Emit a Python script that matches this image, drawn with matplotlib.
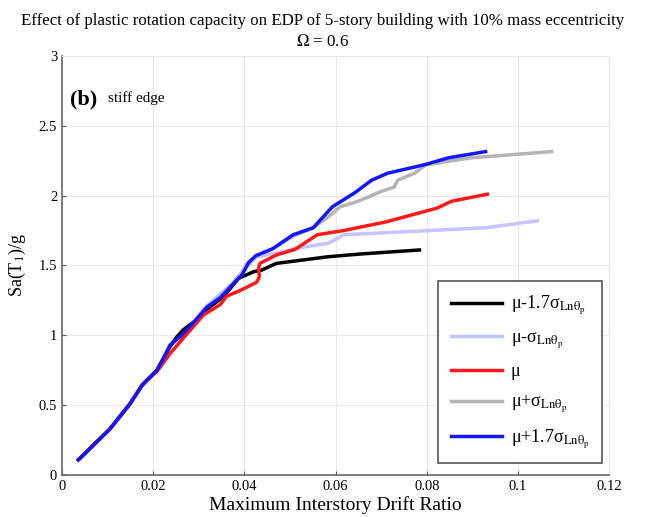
import numpy as np
from matplotlib import pyplot as plt

plt.rcParams["font.family"] = ["Liberation Serif", "DejaVu Serif"]
plt.rcParams["mathtext.fontset"] = "stix"

x_m17 = [0.0036, 0.0105, 0.0149, 0.0175, 0.0186, 0.0208, 0.0237, 0.0252, 0.0266, 0.0295, 0.0325,
         0.0354, 0.0387, 0.0420, 0.0438, 0.0470, 0.0585, 0.0654, 0.0784]
y_m17 = [0.11, 0.33, 0.51, 0.64, 0.68, 0.75, 0.92, 0.99, 1.04, 1.11, 1.205,
         1.276, 1.408, 1.455, 1.467, 1.515, 1.563, 1.582, 1.611]

x_m1 = [0.0036, 0.0105, 0.0149, 0.0175, 0.0208, 0.0237, 0.0288, 0.0317, 0.0361, 0.0390, 0.0405,
        0.0425, 0.0487, 0.0507, 0.0585, 0.0618, 0.0929, 0.1043]
y_m1 = [0.11, 0.33, 0.51, 0.64, 0.75, 0.93, 1.09, 1.21, 1.336, 1.42, 1.515,
        1.56, 1.60, 1.62, 1.66, 1.72, 1.77, 1.82]

x_mu = [0.0036, 0.0105, 0.0149, 0.0164, 0.0178, 0.0208, 0.0237, 0.0274, 0.0310, 0.0347, 0.0361,
        0.0390, 0.0427, 0.0433, 0.0431, 0.0434, 0.0470, 0.0511, 0.0560, 0.0618, 0.0708, 0.0822,
        0.0855, 0.0933]
y_mu = [0.11, 0.33, 0.51, 0.585, 0.656, 0.74, 0.87, 1.01, 1.145, 1.22, 1.28,
        1.32, 1.38, 1.42, 1.48, 1.515, 1.575, 1.615, 1.72, 1.75, 1.81, 1.91,
        1.96, 2.01]

x_p1 = [0.0036, 0.0105, 0.0149, 0.0175, 0.0208, 0.0237, 0.0288, 0.0317, 0.0347, 0.0376, 0.0401,
        0.0425, 0.0462, 0.0507, 0.0551, 0.0585, 0.0610, 0.0650, 0.0700, 0.0728, 0.0736, 0.0773,
        0.0798, 0.0896, 0.1074]
y_p1 = [0.11, 0.33, 0.51, 0.64, 0.75, 0.93, 1.09, 1.20, 1.28, 1.38, 1.48,
        1.56, 1.62, 1.71, 1.77, 1.85, 1.92, 1.96, 2.03, 2.06, 2.11, 2.16,
        2.22, 2.27, 2.315]

x_p17 = [0.0036, 0.0105, 0.0149, 0.0175, 0.0208, 0.0222, 0.0237, 0.0259, 0.0288, 0.0317, 0.0347,
         0.0376, 0.0394, 0.0401, 0.0409, 0.0425, 0.0462, 0.0507, 0.0551, 0.0593, 0.0642, 0.0679,
         0.0714, 0.0794, 0.0847, 0.0929]
y_p17 = [0.11, 0.33, 0.51, 0.64, 0.75, 0.83, 0.93, 0.99, 1.09, 1.20, 1.27,
         1.37, 1.43, 1.47, 1.52, 1.57, 1.62, 1.72, 1.77, 1.92, 2.02, 2.11,
         2.16, 2.22, 2.27, 2.315]

sub = r"$_{\mathrm{Lnθ}_{\mathrm{p}}}$"
labels = ["μ-1.7σ" + sub, "μ-σ" + sub, "μ", "μ+σ" + sub, "μ+1.7σ" + sub]
colours = ["black", "#c4c4ff", "#ff1a1a", "#b4b4b4", "#1515ff"]
zorders = [3, 2, 4, 1, 5]

xticks = [0, 0.02, 0.04, 0.06, 0.08, 0.1, 0.12]
xticklabels = ["0", "0.02", "0.04", "0.06", "0.08", "0.1", "0.12"]
yticks = [0, 0.5, 1, 1.5, 2, 2.5, 3]
yticklabels = ["0", "0.5", "1", "1.5", "2", "2.5", "3"]

fig = plt.figure(figsize=(6.46, 5.17), dpi=100)
ax = fig.add_axes([0.096, 0.081, 0.847, 0.811])

series = [(x_m17, y_m17), (x_m1, y_m1), (x_mu, y_mu), (x_p1, y_p1), (x_p17, y_p17)]
for (x, y), c, lab, z in zip(series, colours, labels, zorders):
    ax.plot(x, y, c=c, lw=2.5, label=lab, zorder=z, solid_joinstyle="round")

ax.set_xlim(0, 0.12)
ax.set_ylim(0, 3)
ax.set_xticks(xticks)
ax.set_xticklabels(xticklabels)
ax.set_yticks(yticks)
ax.set_yticklabels(yticklabels)
ax.tick_params(direction="in", length=3, labelsize=10.5, colors="#555555", labelcolor="black")
ax.grid(True, color="#e8e8e8", lw=0.8)
ax.set_axisbelow(True)
for s in ["left", "bottom"]:
    ax.spines[s].set_color("#666666")
    ax.spines[s].set_linewidth(1.2)
for s in ["top", "right"]:
    ax.spines[s].set_color("#e8e8e8")

ax.set_xlabel("Maximum Interstory Drift Ratio", fontsize=14, labelpad=2)
ax.set_ylabel(r"Sa(T$_{\mathrm{1}}$)/g", fontsize=13, labelpad=8)
fig.suptitle("Effect of plastic rotation capacity on EDP of 5-story building with 10% mass eccentricity\n"
             r"$\Omega$ = 0.6", fontsize=12.2, y=0.975, linespacing=1.4)

ax.text(0.0017, 2.69, "(b)", fontsize=16, fontweight="bold", va="center")
ax.text(0.0101, 2.70, "stiff edge", fontsize=11, va="center")

leg = ax.legend(loc="lower right", bbox_to_anchor=(0.997, 0.015), fontsize=13, handlelength=2.8,
                labelspacing=0.7, borderpad=0.7, frameon=True, fancybox=False, framealpha=1,
                edgecolor="#555555", handletextpad=0.5, borderaxespad=0.3)
leg.get_frame().set_linewidth(1.2)

plt.savefig("out.png", dpi=100)
